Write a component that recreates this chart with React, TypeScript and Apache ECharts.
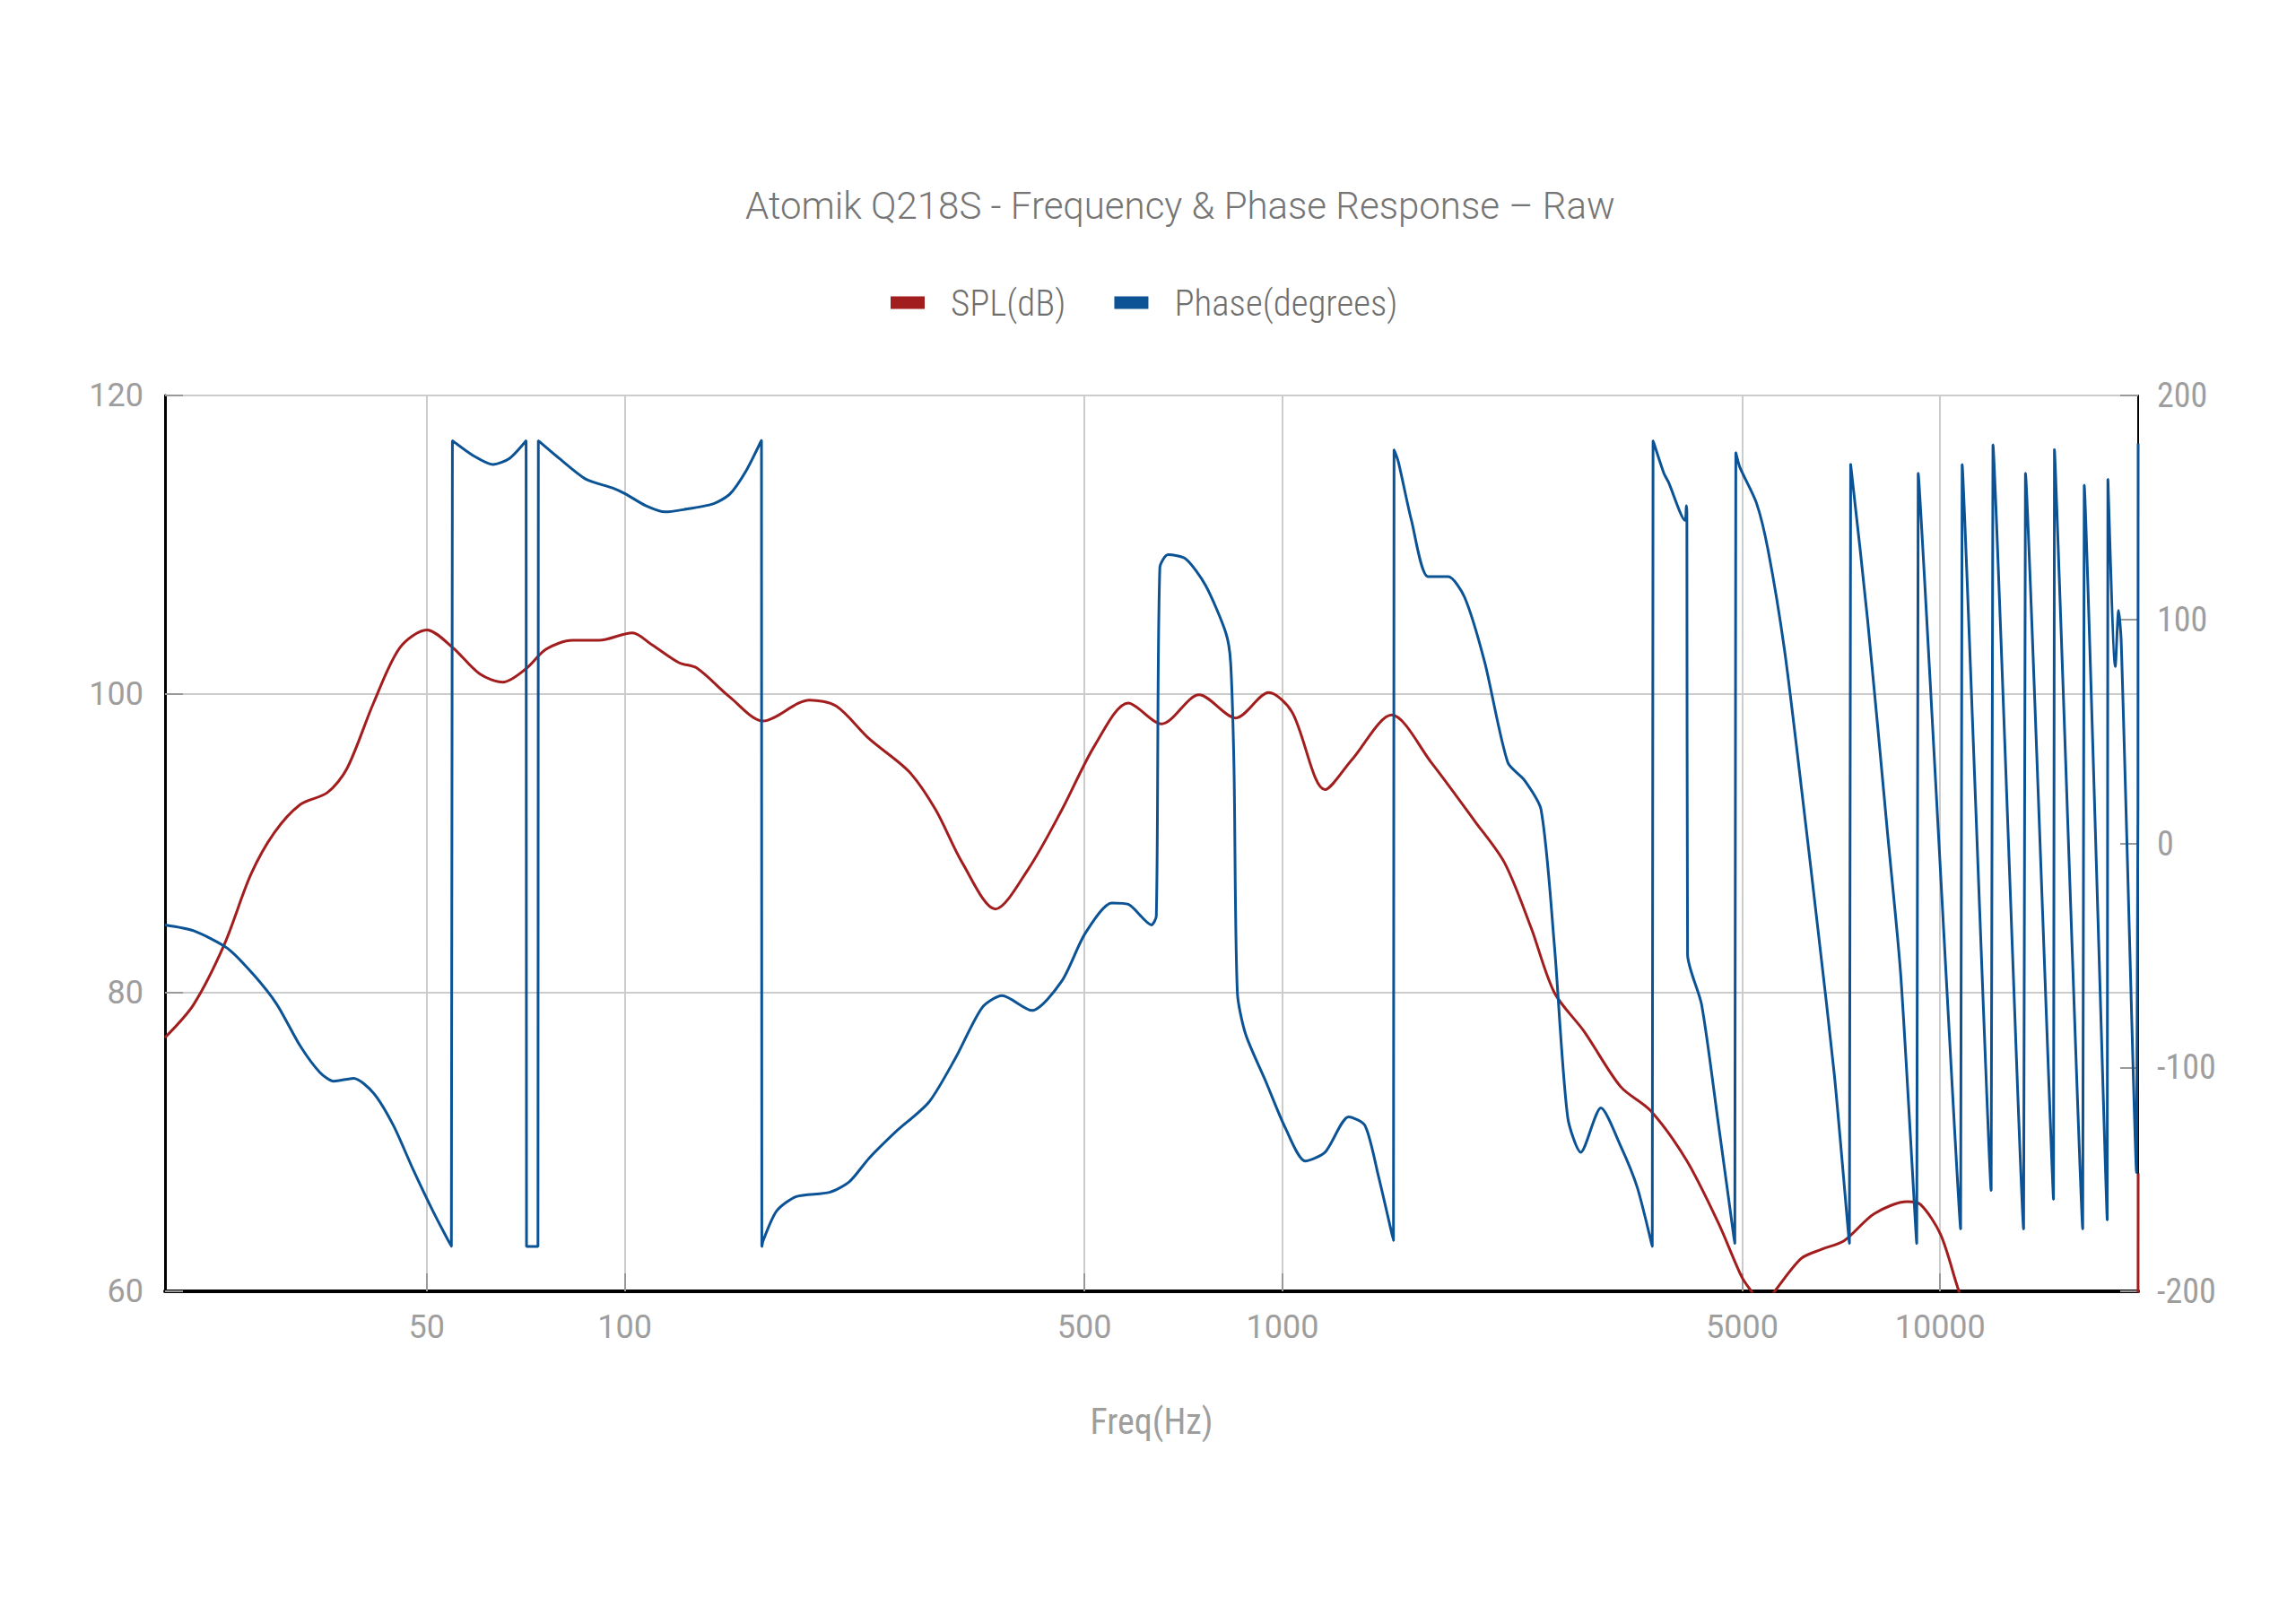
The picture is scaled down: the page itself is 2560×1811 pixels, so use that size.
import React, { useEffect, useRef } from "react";
import * as echarts from "echarts";

const TITLE = "Atomik Q218S - Frequency & Phase Response – Raw";
const LEGEND_NAMES = ["SPL(dB)", "Phase(degrees)"];
const X_NAME = "Freq(Hz)";
const X_MIN_HZ = 20;
const X_MAX_HZ = 20000;
const X_TICKS_HZ = [50, 100, 500, 1000, 5000, 10000];

const splFreq = [
  20, 22.1, 24.6, 27.0, 29.3, 32.1, 35.3, 37.8, 41.5, 45.5, 50, 54.8, 60.2, 65.3, 70.8, 75.9, 83.3, 91.4,
  102.7, 110, 120.9, 128.6, 144.5, 162.3, 191, 209.6, 235.4, 270.6, 297, 326, 366, 411, 462, 519, 583, 655,
  747, 849, 953, 1034, 1161, 1275, 1466, 1685, 1960, 2176, 2388, 2591, 2876, 3268, 3628, 4112, 4598, 4988,
  5164, 5380, 5603, 6148, 6592, 7149, 7939, 8918, 9342, 10016, 10680, 12000, 15000, 19950, 20000,
];
const splDb = [
  77.0, 79.2, 83.2, 87.9, 90.7, 92.6, 93.4, 95.0, 99.4, 103.1, 104.3, 103.1, 101.35, 100.8, 101.7, 103.0, 103.6, 103.6,
  104.1, 103.3, 102.1, 101.75, 99.8, 98.2, 99.6, 99.2, 97.0, 94.8, 92.25, 88.7, 85.6, 88.3, 92.25, 96.6, 99.4, 98.0,
  99.96, 98.4, 100.1, 98.8, 93.6, 95.6, 98.6, 95.4, 91.5, 88.7, 84.35, 80.0, 77.4, 73.7, 72.1, 68.8, 64.6, 61.0,
  60.0, 59.0, 60.0, 62.2, 62.8, 63.4, 65.2, 66.0, 65.8, 63.8, 60.0, 54, 48, 45, 67.9,
];

const phaseFreq = [
  20, 22.1, 24.9, 27.3, 29.6, 32.1, 34.4, 36.1, 38.7, 41.5, 44.5, 47.7, 51.1, 54.5, 54.7, 58.8, 63.0, 66.8, 70.8,
  70.9, 73.8, 73.9, 79.5, 87.3, 95.8, 100.3, 107.6, 115.3, 122, 136.3, 144.5, 153.1, 161.4, 161.6, 162.3, 170.1,
  182.3, 204.8, 219.5, 235.3, 258.4, 290.1, 318.5, 349.5, 374.7, 416, 462, 501, 550, 583, 632, 643, 651, 670,
  713, 764, 820, 834, 844, 854, 879, 943, 1011, 1083, 1161, 1261, 1335, 1399, 1475, 1478, 1500, 1571, 1665, 1786,
  1892, 2030, 2201, 2333, 2473, 2591, 2714, 2842, 3049, 3268, 3464, 3650, 3660, 3801, 3863, 4094, 4112, 4120,
  4130, 4338, 4598, 4873, 4890, 4960, 5255, 5474, 5800, 6148, 6515, 6906, 7278, 7310, 7759, 8318, 8711, 9213,
  9260, 10743, 10800, 11955, 12030, 13393, 13480, 14871, 14920, 16473, 16560, 17947, 17990, 18462, 18677, 18850,
  19888, 20000,
];
const phaseDeg = [
  -36.4, -39.0, -46.9, -58.8, -72, -90.4, -102.3, -106.2, -104.9, -111.5, -126, -145.8, -164.2, -180, 179.8, 173.2, 169.2, 171.9, 179.8,
  -180, -180, 179.8, 171.9, 162.6, 158.7, 156, 150.8, 148, 148.9, 151.6, 156, 166.6, 180, -180, -177.4, -164.2,
  -157.7, -155.8, -151.1, -140.5, -128.7, -115.5, -95.7, -73.3, -68, -74.6, -61.4, -40.3, -26.6, -27.2, -36.4, -32.4, 123.1, 128.9,
  127.0, 115.2, 94.1, 80.9, 33.5, -66.7, -85.2, -106.2, -127.3, -141.8, -137.9, -122.1, -126, -148.4, -177.4, 175.8, 170.5, 144.2, 119.1, 119.1,
  109.9, 80.9, 36.1, 28.2, 15, -45.6, -122.1, -137.9, -118.1, -135.2, -153.7, -180, 179.8, 165.3, 161.3, 144.2, 150.8, 148,
  -49.6, -72, -124.7, -178.7, 174.5, 167.9, 152.1, 131, 86.2, 25.6, -37.7, -103.6, -178.7, 169.2, 99.4, 4.5, -58.8, -178.7,
  165.3, -172.2, 169.2, -155, 178, -172.2, 165.3, -159, 175.8, -172.2, 160, -168.2, 162.6, 79, 104, 90,
  -147, 178.5,
];

const SPL_COLOR = "#a21d1d";
const PHASE_COLOR = "#0b5394";
const LABEL_COLOR = "#9e9e9e";
const TEXT_COLOR = "#757575";
const NARROW = "'Roboto Condensed', 'DejaVu Sans Condensed', 'Liberation Sans Narrow', Roboto, sans-serif";

export default function App() {
  const ref = useRef<HTMLDivElement>(null);

  useEffect(() => {
    if (!ref.current) return;
    const chart = echarts.init(ref.current, null, { renderer: "svg" });
    const lg = (f: number) => Math.log10(f);
    const xTickVals = X_TICKS_HZ.map(lg);
    const splData = splFreq.map((f, i) => [lg(f), splDb[i]]);
    const phaseData = phaseFreq.map((f, i) => [lg(f), phaseDeg[i]]);

    chart.setOption({
      animation: false,
      backgroundColor: "#ffffff",
      title: {
        text: TITLE,
        left: 826,
        top: 203,
        textStyle: { fontSize: 42, color: TEXT_COLOR, fontWeight: 300, fontFamily: "Roboto" },
      },
      legend: {
        data: LEGEND_NAMES,
        left: 988,
        top: 312,
        icon: "rect",
        itemWidth: 38,
        itemHeight: 14,
        itemGap: 54,
        textStyle: { fontSize: 41, color: "#6f6f6f", fontFamily: NARROW, fontWeight: 300, padding: [0, 0, 0, 24] },
      },
      grid: { left: 184, right: 176, top: 441, bottom: 371, containLabel: false },
      xAxis: {
        type: "value",
        min: lg(X_MIN_HZ),
        max: lg(X_MAX_HZ),
        name: X_NAME,
        nameLocation: "middle",
        nameGap: 125,
        nameTextStyle: { fontSize: 40, color: LABEL_COLOR, fontFamily: NARROW },
        axisLine: { show: true, onZero: false, lineStyle: { color: "#000000", width: 4 } },
        axisTick: { show: true, inside: true, length: 20, customValues: xTickVals, lineStyle: { color: "#999999", width: 2 } },
        axisLabel: {
          customValues: xTickVals,
          formatter: (v: number) => String(Math.round(Math.pow(10, v))),
          color: LABEL_COLOR,
          fontSize: 36,
          margin: 22,
          fontFamily: "Roboto",
        },
        splitLine: { show: true, lineStyle: { color: "#cccccc", width: 2 } },
      },
      yAxis: [
        {
          type: "value",
          min: 60,
          max: 120,
          interval: 20,
          position: "left",
          axisLine: { show: true, onZero: false, lineStyle: { color: "#000000", width: 3 } },
          axisTick: { show: true, inside: true, length: 20, lineStyle: { color: "#999999", width: 2 } },
          axisLabel: { color: LABEL_COLOR, fontSize: 36, margin: 24, fontFamily: "Roboto" },
          splitLine: { show: true, lineStyle: { color: "#cccccc", width: 2 } },
        },
        {
          type: "value",
          min: -200,
          max: 200,
          interval: 100,
          position: "right",
          axisLine: { show: true, onZero: false, lineStyle: { color: "#000000", width: 2 } },
          axisTick: { show: true, inside: true, length: 20, lineStyle: { color: "#999999", width: 2 } },
          axisLabel: { color: LABEL_COLOR, fontSize: 38, margin: 21, fontFamily: NARROW },
          splitLine: { show: false },
        },
      ],
      series: [
        {
          name: LEGEND_NAMES[0],
          type: "line",
          yAxisIndex: 0,
          data: splData,
          showSymbol: false,
          smooth: 0.3,
          color: SPL_COLOR,
          lineStyle: { color: SPL_COLOR, width: 3 },
        },
        {
          name: LEGEND_NAMES[1],
          type: "line",
          yAxisIndex: 1,
          data: phaseData,
          showSymbol: false,
          smooth: 0.25,
          color: PHASE_COLOR,
          lineStyle: { color: PHASE_COLOR, width: 3 },
        },
      ],
    });
    return () => chart.dispose();
  }, []);

  return <div ref={ref} style={{ position: "absolute", left: 0, top: 0, width: 2560, height: 1811 }} />;
}
